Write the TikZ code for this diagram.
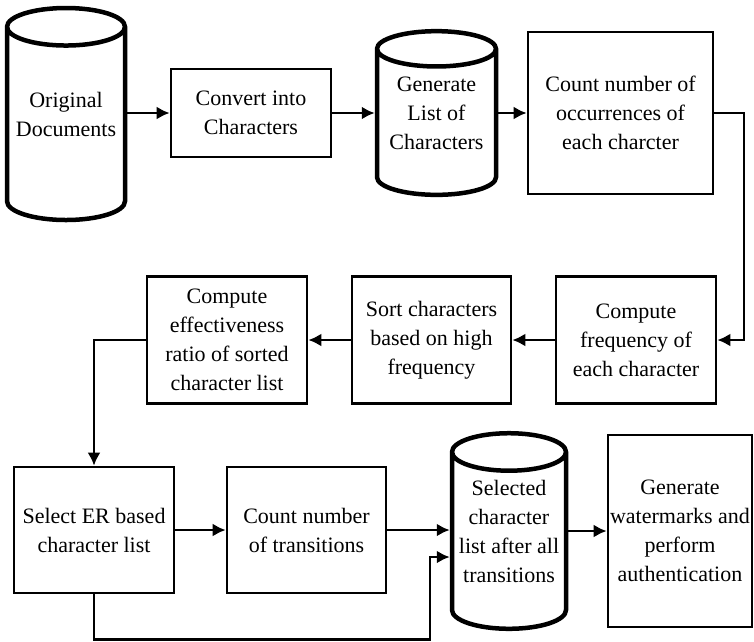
\documentclass[tikz,border=0pt]{standalone}
\usepackage{fontspec}
\setmainfont{Liberation Serif}
\usepackage{tikz}
\usetikzlibrary{arrows.meta,shapes.geometric,positioning}

% text of a cylinder, lifted to the middle of the drum
\newcommand{\drumtext}[1]{\raisebox{0pt}[\height][\dimexpr\depth+22pt\relax]{%
  \begin{tabular}{@{}c@{}}#1\end{tabular}}}

\begin{document}
\begin{tikzpicture}[
        x=1pt, y=-1pt,
        font=\fontsize{22}{29}\selectfont,
        block/.style={rectangle, draw, line width=2.6pt, align=center, inner sep=2pt},
        store/.style={cylinder, shape border rotate=90, draw, line width=4.5pt,
                     aspect=0.36, inner sep=2pt, anchor=shape center},
        line/.style={draw, line width=2.6pt, -{Latex[length=13pt,width=13pt]}}
      ]
        \useasboundingbox (0,0) rectangle (754,641);

        % First row
        \node [store, minimum width=118pt, minimum height=212pt] (origdocs) at (66,114) {\drumtext{Original\\Documents}};
        \node [block, minimum width=160pt, minimum height=88pt] (convert) at (251,113) {Convert into\\Characters};
        \node [store, minimum width=119pt, minimum height=159pt] (charlist) at (436.5,113) {\drumtext{Generate\\List of\\Characters}};
        \node [block, minimum width=185pt, minimum height=162pt] (count) at (620.5,113) {Count number of\\occurrences of\\each charcter};

        % Second row
        \node [block, minimum width=160pt, minimum height=127pt] (freq) at (636,340) {Compute\\frequency of\\each character};
        \node [block, minimum width=159pt, minimum height=127pt] (sort) at (431.5,340) {Sort characters\\based on high\\frequency};
        \node [block, minimum width=160pt, minimum height=127pt] (ratio) at (227,340) {Compute\\effectiveness\\ratio of sorted\\character list};

        % Third row
        \node [block, minimum width=160pt, minimum height=126pt] (select) at (94,530) {Select ER based\\character list};
        \node [block, minimum width=159pt, minimum height=126pt] (trans) at (306.5,530) {Count number\\of transitions};
        \node [store, minimum width=114pt, minimum height=172pt] (final) at (509,531) {\drumtext{Selected\\character\\list after all\\transitions}};
        \node [block, minimum width=144pt, minimum height=192pt] (wmark) at (680,531) {Generate\\watermarks and\\perform\\authentication};

        % Bends
        \coordinate (bend) at (744,113);
        \coordinate (back) at (430,557);

        % Lines
        \draw [line] (origdocs.east |- convert) -- (convert);
        \draw [line] (convert) -- (charlist.west |- convert);
        \draw [line] (charlist.east |- count) -- (count);
        \draw [line] (count.east) -- (bend) |- (freq.east);
        \draw [line] (freq) -- (sort);
        \draw [line] (sort) -- (ratio);
        \draw [line] (ratio.west) -| (select.north);
        \draw [line] (select) -- (trans);
        \draw [line] (trans) -- (final.west |- trans);
        \draw [line] (final.east |- wmark) -- (wmark);
        \draw [line] (select.south) -- ++(0,45) -| (back) -- (back -| final.west);
      \end{tikzpicture}
\end{document}
